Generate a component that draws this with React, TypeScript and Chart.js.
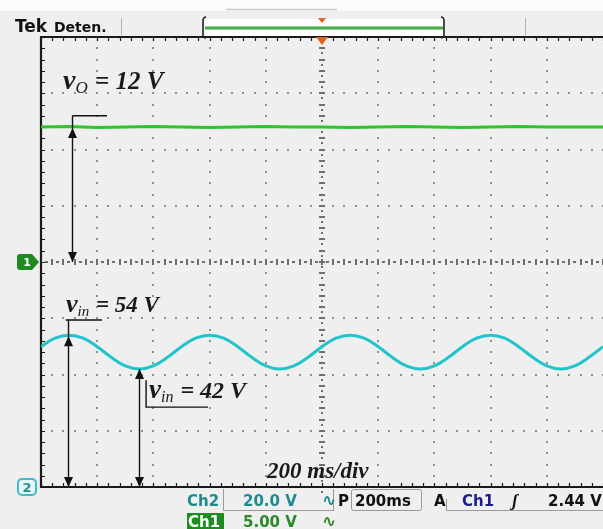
import React, { useEffect, useRef } from "react";
import { Chart, registerables } from "chart.js";
Chart.register(...registerables);

// Time axis: 200 ms/div, 10 divisions
const timeDivisions = [0, 200, 400, 600, 800, 1000, 1200, 1400, 1600, 1800, 2000];

// Ch2 (v_in, 20 V/div, ground at bottom graticule line)
const vinTimeMs = [
  0, 50, 100, 150, 200, 250, 300, 350, 400, 450,
  500, 550, 600, 650, 700, 750, 800, 850, 900, 950,
  1000, 1050, 1100, 1150, 1200, 1250, 1300, 1350, 1400, 1450,
  1500, 1550, 1600, 1650, 1700, 1750, 1800, 1850, 1900, 1950, 2000,
];
const vinVolts = [
  49.9, 52.9, 54.0, 52.9, 49.9, 46.1, 43.1, 42.0, 43.1, 46.1,
  49.9, 52.9, 54.0, 52.9, 49.9, 46.1, 43.1, 42.0, 43.1, 46.1,
  49.9, 52.9, 54.0, 52.9, 49.9, 46.1, 43.1, 42.0, 43.1, 46.1,
  49.9, 52.9, 54.0, 52.9, 49.9, 46.1, 43.1, 42.0, 43.1, 46.1, 49.9,
];

// Ch1 (v_O, 5 V/div, ground at centre graticule line)
const voTimeMs = [
  0, 100, 200, 300, 400, 500, 600, 700, 800, 900, 1000,
  1100, 1200, 1300, 1400, 1500, 1600, 1700, 1800, 1900, 2000,
];
const voVolts = [
  12.0, 12.05, 11.95, 12.0, 12.05, 12.0, 11.95, 12.0, 12.05, 12.0, 12.0,
  11.95, 12.0, 12.05, 12.0, 11.95, 12.0, 12.05, 12.0, 12.0, 12.0,
];

// Annotation anchors (data units)
const voArrowT = 110;
const voArrowTopV = 13; // Ch1 volts
const voLevel = 12;
const vinMaxArrowT = 96;
const vinMax = 54;
const vinMaxLeaderV = 59.4;
const vinMinArrowT = 349;
const vinMin = 42;

const SERIF = '"Liberation Serif", "DejaVu Serif", serif';
const SANS = '"DejaVu Sans", "Liberation Sans", sans-serif';

function arrowHead(ctx: CanvasRenderingContext2D, x: number, tipY: number, dir: number) {
  ctx.beginPath();
  ctx.moveTo(x, tipY);
  ctx.lineTo(x - 4.5, tipY + dir * 10);
  ctx.lineTo(x + 4.5, tipY + dir * 10);
  ctx.closePath();
  ctx.fill();
}

function doubleArrow(ctx: CanvasRenderingContext2D, x: number, yTop: number, yTip: number, yBot: number) {
  ctx.beginPath();
  ctx.moveTo(x, yTop);
  ctx.lineTo(x, yBot);
  ctx.stroke();
  arrowHead(ctx, x, yTip, 1);
  arrowHead(ctx, x, yBot, -1);
}

function label(ctx: CanvasRenderingContext2D, x: number, y: number, sub: string, rest: string, size: number) {
  ctx.font = `italic bold ${size + 3}px ${SERIF}`;
  ctx.fillText("v", x, y);
  let cx = x + ctx.measureText("v").width;
  ctx.font = `italic ${Math.round(size * 0.66)}px ${SERIF}`;
  ctx.fillText(sub, cx, y + 4);
  cx += ctx.measureText(sub).width + 1;
  ctx.font = `italic bold ${size}px ${SERIF}`;
  ctx.fillText(rest, cx, y);
}

const scopePlugin = {
  id: "scope",
  beforeDraw(chart: any) {
    const ctx: CanvasRenderingContext2D = chart.ctx;
    ctx.save();
    ctx.fillStyle = "#efefef";
    ctx.fillRect(0, 0, chart.width, chart.height);
    ctx.fillStyle = "#fbfbfb";
    ctx.fillRect(0, 0, chart.width, 11);
    ctx.restore();
  },
  beforeDatasetsDraw(chart: any) {
    const ctx: CanvasRenderingContext2D = chart.ctx;
    const { left, top, right, bottom } = chart.chartArea;
    const x = chart.scales.x;
    const y2 = chart.scales.y2;
    ctx.save();
    const xs = timeDivisions.map((t) => x.getPixelForValue(t));
    const ys: number[] = [];
    for (let j = 0; j <= 8; j++) ys.push(y2.getPixelForValue(j * 20));
    const cxp = x.getPixelForValue(1000);
    const cyp = y2.getPixelForValue(80);
    // dotted graticule
    ctx.fillStyle = "#8e8e8e";
    for (let i = 1; i < xs.length - 1; i++) {
      if (i === 5) continue;
      for (let k = 0; k <= 40; k++) {
        const yy = y2.getPixelForValue(k * 4);
        ctx.fillRect(Math.round(xs[i]) - 1, Math.round(yy) - 1, 2, 2);
      }
    }
    for (let j = 1; j < 8; j++) {
      if (j === 4) continue;
      for (let k = 0; k <= 50; k++) {
        const xx = x.getPixelForValue(k * 40);
        ctx.fillRect(Math.round(xx) - 1, Math.round(ys[j]) - 1, 2, 2);
      }
    }
    // centre lines with ticks
    ctx.fillStyle = "#6e6e6e";
    for (let k = 0; k <= 40; k++) {
      const yy = Math.round(y2.getPixelForValue(k * 4));
      ctx.fillRect(Math.round(cxp) - 3, yy - 1, 6, 2);
      ctx.fillRect(Math.round(cxp) - 1, yy + 4, 2, 2);
    }
    for (let k = 0; k <= 50; k++) {
      const xx = Math.round(x.getPixelForValue(k * 40));
      ctx.fillRect(xx - 1, Math.round(cyp) - 3, 2, 6);
      ctx.fillRect(xx + 4, Math.round(cyp) - 1, 3, 2);
    }
    // border
    ctx.strokeStyle = "#1a1a1a";
    ctx.lineWidth = 2.2;
    ctx.beginPath();
    ctx.moveTo(right + 2, top);
    ctx.lineTo(left, top);
    ctx.lineTo(left, bottom);
    ctx.lineTo(right + 2, bottom);
    ctx.stroke();
    ctx.lineWidth = 1.2;
    ctx.beginPath();
    for (let k = 0; k <= 50; k++) {
      const xx = Math.round(x.getPixelForValue(k * 40)) + 0.5;
      ctx.moveTo(xx, top);
      ctx.lineTo(xx, top + 4);
      ctx.moveTo(xx, bottom);
      ctx.lineTo(xx, bottom - 4);
    }
    for (let k = 0; k <= 40; k++) {
      const yy = Math.round(y2.getPixelForValue(k * 4)) + 0.5;
      ctx.moveTo(left, yy);
      ctx.lineTo(left + 4, yy);
    }
    ctx.stroke();
    ctx.restore();
  },
  afterDatasetsDraw(chart: any) {
    const ctx: CanvasRenderingContext2D = chart.ctx;
    const { top, bottom } = chart.chartArea;
    const x = chart.scales.x;
    const y1 = chart.scales.y1;
    const y2 = chart.scales.y2;
    ctx.save();
    ctx.strokeStyle = "#111";
    ctx.fillStyle = "#111";
    ctx.lineWidth = 1.4;

    // v_O annotation
    const ax = Math.round(x.getPixelForValue(voArrowT)) + 0.5;
    const aTop = y1.getPixelForValue(voArrowTopV);
    ctx.beginPath();
    ctx.moveTo(x.getPixelForValue(235), aTop);
    ctx.lineTo(ax, aTop);
    ctx.stroke();
    doubleArrow(ctx, ax, aTop, y1.getPixelForValue(voLevel) + 1, y1.getPixelForValue(0));

    // v_in max annotation
    const bx = Math.round(x.getPixelForValue(vinMaxArrowT)) + 0.5;
    const bTop = y2.getPixelForValue(vinMaxLeaderV);
    ctx.beginPath();
    ctx.moveTo(x.getPixelForValue(217), bTop);
    ctx.lineTo(x.getPixelForValue(88), bTop);
    ctx.stroke();
    doubleArrow(ctx, bx, bTop, y2.getPixelForValue(vinMax) + 1, y2.getPixelForValue(0));

    // v_in min annotation
    const cx = Math.round(x.getPixelForValue(vinMinArrowT)) + 0.5;
    doubleArrow(ctx, cx, y2.getPixelForValue(vinMin), y2.getPixelForValue(vinMin), y2.getPixelForValue(0));
    ctx.beginPath();
    ctx.moveTo(x.getPixelForValue(374), y2.getPixelForValue(38));
    ctx.lineTo(x.getPixelForValue(374), y2.getPixelForValue(28.4));
    ctx.lineTo(x.getPixelForValue(594), y2.getPixelForValue(28.4));
    ctx.stroke();

    // labels
    ctx.fillStyle = "#1a1a1a";
    ctx.textBaseline = "alphabetic";
    label(ctx, 63, 89, "O", " = 12 V", 25);
    label(ctx, 66, 312, "in", " = 54 V", 23);
    label(ctx, 149, 398, "in", " = 42 V", 24);
    ctx.font = `italic bold 23px ${SERIF}`;
    ctx.fillText("200 ms/div", 267, 478);

    // trigger marker
    const tx = x.getPixelForValue(1000);
    ctx.fillStyle = "#e0641c";
    ctx.beginPath();
    ctx.moveTo(tx - 6, top);
    ctx.lineTo(tx + 6, top);
    ctx.lineTo(tx, top + 8);
    ctx.closePath();
    ctx.fill();

    // Ch1 ground marker
    const g1 = y1.getPixelForValue(0);
    ctx.fillStyle = "#1c8a1c";
    ctx.beginPath();
    ctx.moveTo(20, g1 - 8);
    ctx.lineTo(32, g1 - 8);
    ctx.lineTo(39, g1);
    ctx.lineTo(32, g1 + 8);
    ctx.lineTo(20, g1 + 8);
    ctx.quadraticCurveTo(17, g1 + 8, 17, g1 + 5);
    ctx.lineTo(17, g1 - 5);
    ctx.quadraticCurveTo(17, g1 - 8, 20, g1 - 8);
    ctx.fill();
    ctx.fillStyle = "#ffffff";
    ctx.font = `bold 11px ${SANS}`;
    ctx.textAlign = "center";
    ctx.fillText("1", 27, g1 + 4);

    // Ch2 ground marker
    const g2 = y2.getPixelForValue(0);
    ctx.strokeStyle = "#3cbcc4";
    ctx.lineWidth = 2;
    ctx.fillStyle = "#e6f6f6";
    ctx.beginPath();
    ctx.roundRect(18, g2 - 8, 18, 16, 4);
    ctx.fill();
    ctx.stroke();
    ctx.fillStyle = "#1f8f96";
    ctx.font = `bold 13px ${SANS}`;
    ctx.fillText("2", 27, g2 + 5);
    ctx.textAlign = "left";

    // top status bar
    ctx.fillStyle = "#111";
    ctx.font = `bold 17px ${SANS}`;
    ctx.fillText("Tek", 15, 32);
    ctx.font = `bold 14px ${SANS}`;
    ctx.fillText("Deten.", 54, 32);
    ctx.strokeStyle = "#b0b0b0";
    ctx.lineWidth = 1;
    ctx.beginPath();
    ctx.moveTo(121.5, 18);
    ctx.lineTo(121.5, 35);
    ctx.moveTo(525.5, 18);
    ctx.lineTo(525.5, 35);
    ctx.stroke();
    ctx.strokeStyle = "#c8c8c8";
    ctx.lineWidth = 1.5;
    ctx.beginPath();
    ctx.moveTo(226, 9.5);
    ctx.lineTo(337, 9.5);
    ctx.stroke();
    // record-length bracket
    ctx.fillStyle = "#ffffff";
    ctx.fillRect(205, 19, 238, 17);
    ctx.strokeStyle = "#8fcf8f";
    ctx.lineWidth = 4;
    ctx.beginPath();
    ctx.moveTo(205, 28);
    ctx.lineTo(443, 28);
    ctx.stroke();
    ctx.strokeStyle = "#3a9a3a";
    ctx.lineWidth = 1.5;
    ctx.beginPath();
    ctx.moveTo(205, 28);
    ctx.lineTo(443, 28);
    ctx.stroke();
    ctx.strokeStyle = "#222";
    ctx.lineWidth = 1.6;
    ctx.beginPath();
    ctx.moveTo(206, 17);
    ctx.quadraticCurveTo(203, 17, 203, 21);
    ctx.lineTo(203, 35);
    ctx.quadraticCurveTo(203, 38, 206, 38);
    ctx.moveTo(441, 17);
    ctx.quadraticCurveTo(444, 17, 444, 21);
    ctx.lineTo(444, 35);
    ctx.quadraticCurveTo(444, 38, 441, 38);
    ctx.stroke();
    ctx.fillStyle = "#e0641c";
    ctx.beginPath();
    ctx.moveTo(318, 18);
    ctx.lineTo(326, 18);
    ctx.lineTo(322, 23);
    ctx.closePath();
    ctx.fill();

    // bottom readouts
    ctx.strokeStyle = "#9a9a9a";
    ctx.lineWidth = 1;
    ctx.beginPath();
    ctx.moveTo(223.5, bottom + 2);
    ctx.lineTo(223.5, 510.5);
    ctx.lineTo(333.5, 510.5);
    ctx.lineTo(333.5, bottom + 2);
    ctx.stroke();
    ctx.beginPath();
    ctx.roundRect(351.5, 489.5, 70, 21, 2);
    ctx.stroke();
    ctx.beginPath();
    ctx.moveTo(446.5, 499);
    ctx.lineTo(446.5, 510.5);
    ctx.lineTo(603, 510.5);
    ctx.stroke();

    ctx.font = `bold 15px ${SANS}`;
    ctx.fillStyle = "#1d8a8e";
    ctx.fillText("Ch2", 187, 506);
    ctx.fillText("20.0 V", 243, 506);
    ctx.font = `bold 17px ${SANS}`;
    ctx.fillText("\u223F", 322, 506);
    ctx.fillStyle = "#1e8c1e";
    ctx.fillRect(187, 513, 37, 16);
    ctx.fillStyle = "#ffffff";
    ctx.font = `bold 15px ${SANS}`;
    ctx.fillText("Ch1", 188, 527);
    ctx.fillStyle = "#2a8a2a";
    ctx.fillText("5.00 V", 243, 527);
    ctx.font = `bold 17px ${SANS}`;
    ctx.fillText("\u223F", 322, 527);
    ctx.font = `bold 15px ${SANS}`;
    ctx.fillStyle = "#111";
    ctx.fillText("P", 338, 506);
    ctx.fillText("200ms", 355, 506);
    ctx.fillText("A", 434, 506);
    ctx.fillStyle = "#1c1c8e";
    ctx.fillText("Ch1", 462, 506);
    ctx.fillStyle = "#111";
    ctx.font = `bold italic 17px ${SERIF}`;
    ctx.fillText("\u0283", 512, 506);
    ctx.font = `bold 15px ${SANS}`;
    ctx.fillText("2.44 V", 548, 506);
    ctx.restore();
  },
};

export default function App() {
  const canvasRef = useRef<HTMLCanvasElement | null>(null);
  useEffect(() => {
    const canvas = canvasRef.current;
    if (!canvas) return;
    const chart = new Chart(canvas, {
      type: "line",
      data: {
        datasets: [
          {
            label: "v_O (Ch1)",
            data: voTimeMs.map((t, i) => ({ x: t, y: voVolts[i] })),
            yAxisID: "y1",
            borderColor: "#2ec42a",
            borderWidth: 3,
            pointRadius: 0,
            tension: 0,
          },
          {
            label: "v_in (Ch2)",
            data: vinTimeMs.map((t, i) => ({ x: t, y: vinVolts[i] })),
            yAxisID: "y2",
            borderColor: "#22c4cc",
            borderWidth: 3,
            pointRadius: 0,
            tension: 0.4,
          },
        ],
      },
      options: {
        responsive: false,
        maintainAspectRatio: false,
        devicePixelRatio: 1,
        animation: false,
        events: [],
        layout: { padding: { left: 41, top: 37, right: 0, bottom: 42 } },
        plugins: { legend: { display: false }, tooltip: { enabled: false } },
        scales: {
          x: { type: "linear", min: timeDivisions[0], max: timeDivisions[timeDivisions.length - 1], display: false },
          y1: { type: "linear", min: -20, max: 20, display: false },
          y2: { type: "linear", min: 0, max: 160, display: false },
        },
      },
      plugins: [scopePlugin],
    });
    return () => chart.destroy();
  }, []);
  return (
    <div style={{ position: "fixed", left: 0, top: 0, width: 603, height: 529 }}>
      <canvas ref={canvasRef} width={603} height={529} style={{ display: "block", width: 603, height: 529 }} />
    </div>
  );
}
